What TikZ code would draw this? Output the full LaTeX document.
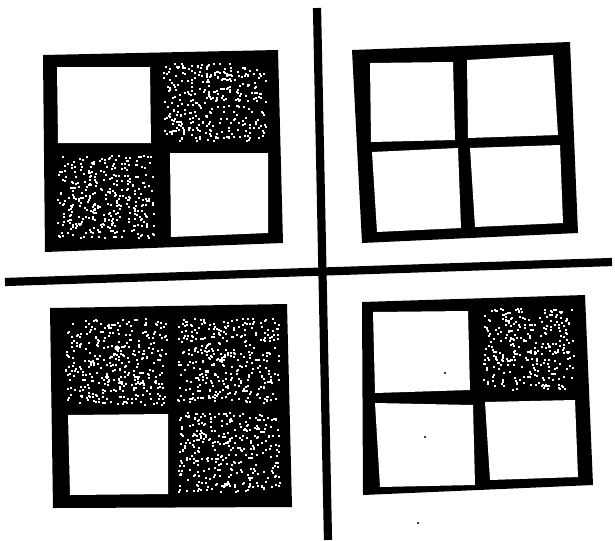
\documentclass[tikz,border=0pt]{standalone}
\usepackage{tikz}
\definecolor{PrintInk}{HTML}{000000}
\definecolor{PrintPaper}{HTML}{FFFFFF}
\tikzset{
  every picture/.style = {line join=round, line cap=round},
  grid ink/.style = {fill=PrintInk},
  cell open/.style = {fill=PrintPaper},
  speck white/.style = {fill=PrintPaper},
  speck black/.style = {fill=PrintInk},
  rule line/.style = {draw=PrintInk, line width=4.1mm, line cap=butt},
}
% white specks scattered over a dark cell: x1 y1 x2 y2 count
\newcommand{\stipple}[5]{%
  \foreach \k in {1,...,#5}{
    \pgfmathsetmacro{\sx}{#1+rnd*(#3-#1-2)}
    \pgfmathsetmacro{\sy}{#2+rnd*(#4-#2-2)}
    \fill[speck white] (\sx,\sy) rectangle ++(2,2);
  }}

\begin{document}
\begin{tikzpicture}[x=0.5mm,y=-0.5mm]
  \pgfmathsetseed{7}
  \fill[PrintPaper] (0,0) rectangle (615,540);
  \useasboundingbox (0,0) rectangle (615,540);

  % top left
  \fill[grid ink] (43,55) -- (278,50) -- (283,243) -- (45,252) -- cycle;
  \fill[cell open] (57,67) -- (150,67) -- (151,143) -- (58,143) -- cycle;
  \fill[cell open] (170,153) -- (268,153) -- (268,233) -- (171,237) -- cycle;
  \stipple{163}{62}{268}{142}{340}
  \stipple{57}{155}{155}{239}{340}

  % top right
  \fill[grid ink] (352,50) -- (570,42) -- (578,233) -- (362,243) -- cycle;
  \fill[cell open] (370,63) -- (453,62) -- (455,140) -- (371,142) -- cycle;
  \fill[cell open] (467,60) -- (553,55) -- (558,135) -- (468,138) -- cycle;
  \fill[cell open] (372,152) -- (458,148) -- (461,228) -- (377,232) -- cycle;
  \fill[cell open] (470,148) -- (560,145) -- (563,223) -- (475,227) -- cycle;

  % bottom left
  \fill[grid ink] (50,308) -- (287,304) -- (292,507) -- (53,508) -- cycle;
  \fill[cell open] (68,415) -- (168,414) -- (168,494) -- (70,495) -- cycle;
  \stipple{65}{318}{168}{406}{360}
  \stipple{177}{317}{281}{404}{355}
  \stipple{178}{412}{281}{493}{330}
  \fill[speck white] (117,348) circle (2.6);

  % bottom right
  \fill[grid ink] (362,302) -- (585,295) -- (593,485) -- (363,495) -- cycle;
  \fill[cell open] (373,312) -- (468,311) -- (470,390) -- (375,393) -- cycle;
  \fill[cell open] (375,403) -- (473,405) -- (475,485) -- (380,487) -- cycle;
  \fill[cell open] (485,402) -- (575,400) -- (578,477) -- (490,480) -- cycle;
  \stipple{483}{308}{575}{391}{300}
  \fill[speck black] (445,373) circle (1.1);
  \fill[speck black] (425,437) circle (1.1);
  \fill[speck black] (418,523) circle (1.1);

  % dividing cross
  \coordinate (rule top) at (317,8);
  \coordinate (rule bottom) at (328,540);
  \coordinate (rule left) at (5,282);
  \coordinate (rule right) at (612,262);
  \draw[rule line] (rule top) -- (rule bottom);
  \draw[rule line] (rule left) -- (rule right);
\end{tikzpicture}
\end{document}
